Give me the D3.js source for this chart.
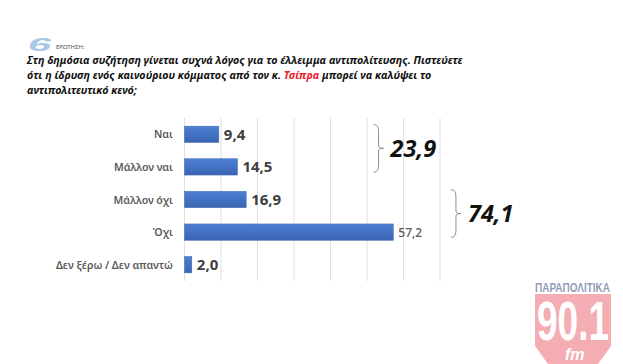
<!DOCTYPE html>
<html>
<head>
<meta charset="utf-8">
<script src="https://d3js.org/d3.v7.min.js"></script>
<style>
  body { margin: 0; background: #fff; }
  svg { display: block; }
</style>
</head>
<body>
<div id="chart"></div>
<script>
// answers and percentages
var categories = ["Ναι", "Μάλλον ναι", "Μάλλον όχι", "Όχι", "Δεν ξέρω / Δεν απαντώ"];
var values = [9.4, 14.5, 16.9, 57.2, 2.0];
var gridTicks = [0, 10, 20, 30, 40, 50, 60, 70];
// summed groups shown with braces
var groupLabels = ["23,9", "74,1"];
var groupFrom = [0, 2];
var groupTo = [1, 3];

var questionNo = "6";
var questionTag = "ΕΡΩΤΗΣΗ:";
var titleLines = [
    [{t: "Στη δημόσια συζήτηση γίνεται συχνά λόγος για το έλλειμμα αντιπολίτευσης. Πιστεύετε"}],
    [{t: "ότι η ίδρυση ενός καινούριου κόμματος από τον κ. "}, {t: "Τσίπρα", red: true}, {t: " μπορεί να καλύψει το"}],
    [{t: "αντιπολιτευτικό κενό;"}]
];

var W = 623, H = 364;
var margin = {top: 118, left: 184.5, right: 183, bottom: 83};

var svg = d3.select("#chart").append("svg")
    .attr("width", W)
    .attr("height", H);

var defs = svg.append("defs");
var grad = defs.append("linearGradient")
    .attr("id", "barGrad")
    .attr("x1", 0).attr("y1", 0).attr("x2", 0).attr("y2", 1);
grad.append("stop").attr("offset", "0%").attr("stop-color", "#4f7fd2");
grad.append("stop").attr("offset", "50%").attr("stop-color", "#4472c4");
grad.append("stop").attr("offset", "100%").attr("stop-color", "#3a64b2");

// header
svg.append("text")
    .attr("x", 28).attr("y", 51)
    .attr("font-family", "Liberation Sans, sans-serif")
    .attr("font-weight", "bold")
    .attr("font-style", "italic")
    .attr("font-size", 19)
    .attr("fill", "#a8c6e6")
    .attr("textLength", 23)
    .attr("lengthAdjust", "spacingAndGlyphs")
    .text(questionNo);

svg.append("text")
    .attr("x", 56).attr("y", 49)
    .attr("font-family", "Noto Sans, sans-serif")
    .attr("font-size", 6)
    .attr("fill", "#555")
    .text(questionTag);

var title = svg.append("g")
    .attr("font-family", "Noto Sans, sans-serif")
    .attr("font-weight", "bold")
    .attr("font-style", "italic")
    .attr("font-size", 10.7);

titleLines.forEach(function(line, i) {
    var t = title.append("text")
        .attr("x", 27)
        .attr("y", 64 + i * 15);
    line.forEach(function(p) {
        t.append("tspan")
            .attr("fill", p.red ? "#e8202a" : "#111")
            .text(p.t);
    });
});

// chart
var width = W - margin.left - margin.right;
var x = d3.scaleLinear().domain([0, 70]).range([margin.left, margin.left + width]);
var y = d3.scaleBand()
    .domain(categories)
    .range([margin.top, H - margin.bottom])
    .paddingInner(0.5)
    .paddingOuter(0.25);

svg.append("g").selectAll("line")
    .data(gridTicks).enter().append("line")
    .attr("x1", function(d) { return x(d); })
    .attr("x2", function(d) { return x(d); })
    .attr("y1", margin.top)
    .attr("y2", H - margin.bottom)
    .attr("stroke", "#e0e0e0")
    .attr("stroke-width", 1);

var rows = categories.map(function(c, i) { return {label: c, value: values[i], i: i}; });

svg.append("g").selectAll("rect")
    .data(rows).enter().append("rect")
    .attr("x", x(0))
    .attr("y", function(d) { return y(d.label); })
    .attr("width", function(d) { return x(d.value) - x(0); })
    .attr("height", y.bandwidth())
    .attr("fill", "url(#barGrad)")
    .attr("stroke", "#3d66b0")
    .attr("stroke-width", 0.5);

svg.append("g").selectAll("text")
    .data(rows).enter().append("text")
    .attr("x", 173)
    .attr("y", function(d) { return y(d.label) + y.bandwidth() / 2 + 4; })
    .attr("text-anchor", "end")
    .attr("font-family", "Noto Sans, sans-serif")
    .attr("font-size", 10.5)
    .attr("font-weight", 600)
    .attr("fill", "#595959")
    .text(function(d) { return d.label; });

var fmt = function(v) { return v.toFixed(1).replace(".", ","); };

svg.append("g").selectAll("text")
    .data(rows).enter().append("text")
    .attr("x", function(d) { return x(d.value) + 5; })
    .attr("y", function(d) { return y(d.label) + y.bandwidth() / 2 + (d.value > 50 ? 4.5 : 5.5); })
    .attr("font-family", "Noto Sans, sans-serif")
    .attr("font-size", function(d) { return d.value > 50 ? 12 : 15; })
    .attr("font-weight", function(d) { return d.value > 50 ? 500 : "bold"; })
    .attr("fill", function(d) { return d.value > 50 ? "#595959" : "#404040"; })
    .text(function(d) { return fmt(d.value); });

// braces
function brace(x0, y0, y1, w) {
    var m = (y0 + y1) / 2, q = w / 2;
    return "M" + x0 + "," + y0 +
        " C" + (x0 + q) + "," + y0 + " " + (x0 + q) + "," + (y0 + 4) + " " + (x0 + q) + "," + (y0 + 10) +
        " L" + (x0 + q) + "," + (m - 5) +
        " C" + (x0 + q) + "," + (m - 1) + " " + (x0 + q) + "," + m + " " + (x0 + w) + "," + m +
        " C" + (x0 + q) + "," + m + " " + (x0 + q) + "," + (m + 1) + " " + (x0 + q) + "," + (m + 5) +
        " L" + (x0 + q) + "," + (y1 - 10) +
        " C" + (x0 + q) + "," + (y1 - 4) + " " + (x0 + q) + "," + y1 + " " + x0 + "," + y1;
}

var braceX = [x(51.8), x(73)];
groupLabels.forEach(function(lbl, i) {
    var y0 = y(categories[groupFrom[i]]) - 1.5;
    var y1 = y(categories[groupTo[i]]) + y.bandwidth() - 3;
    svg.append("path")
        .attr("d", brace(braceX[i], y0, y1, 10))
        .attr("fill", "none")
        .attr("stroke", "#8a8a8a")
        .attr("stroke-width", 1);
    svg.append("text")
        .attr("x", braceX[i] + 17)
        .attr("y", (y0 + y1) / 2 + 8.5)
        .attr("font-family", "Noto Sans, sans-serif")
        .attr("font-weight", "bold")
        .attr("font-style", "italic")
        .attr("font-size", 23.5)
        .attr("fill", "#111")
        .text(lbl);
});

// station logo
var logo = svg.append("g").attr("opacity", 0.55);
logo.append("path")
    .attr("d", "M535,294 L611,294 L611,346 L598,364 L548,364 L535,346 Z")
    .attr("fill", "#ec6b74");
logo.append("text")
    .attr("x", 535).attr("y", 292)
    .attr("font-family", "Liberation Sans Narrow, Liberation Sans, sans-serif")
    .attr("font-weight", "bold")
    .attr("font-size", 12)
    .attr("fill", "#3b4d80")
    .attr("textLength", 75)
    .attr("lengthAdjust", "spacingAndGlyphs")
    .text("ΠΑΡΑΠΟΛΙΤΙΚΑ");
logo.append("text")
    .attr("x", 537).attr("y", 340)
    .attr("font-family", "Liberation Sans Narrow, Liberation Sans, sans-serif")
    .attr("font-weight", "bold")
    .attr("font-size", 55)
    .attr("fill", "#fff")
    .attr("textLength", 72)
    .attr("lengthAdjust", "spacingAndGlyphs")
    .text("90.1");
logo.append("text")
    .attr("x", 565).attr("y", 360)
    .attr("font-family", "Liberation Sans, sans-serif")
    .attr("font-weight", "bold")
    .attr("font-style", "italic")
    .attr("font-size", 16)
    .attr("fill", "#fff")
    .text("fm");
</script>
</body>
</html>
